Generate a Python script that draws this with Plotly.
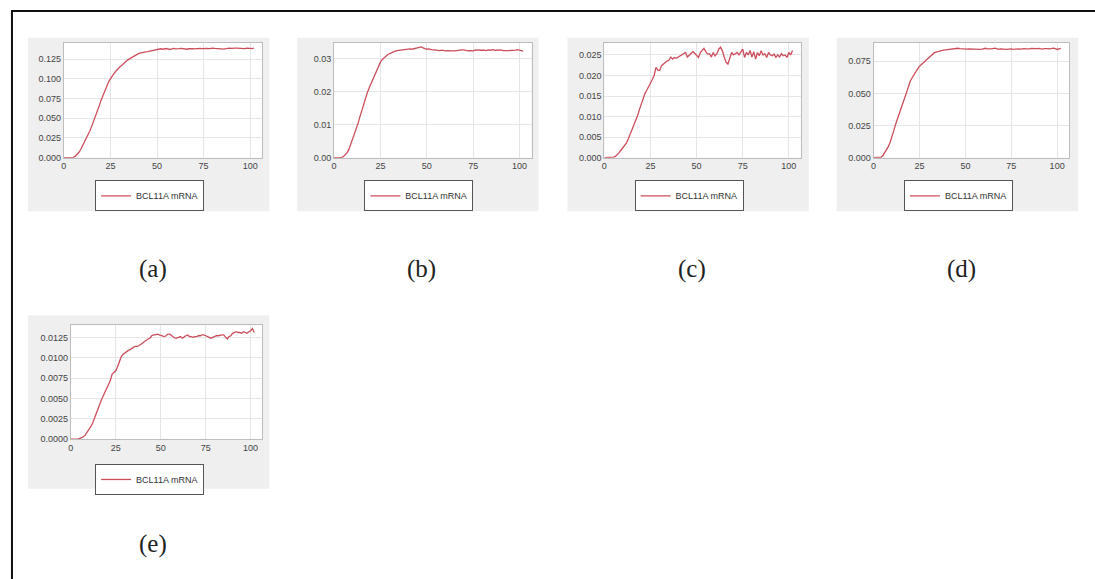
import plotly.graph_objects as go

W, H = 1095, 579

series_name = "BCL11A mRNA"
panel_labels = ["(a)", "(b)", "(c)", "(d)", "(e)"]

x_ticks = [0, 25, 50, 75, 100]

vals_a = [
    0, 0, 0, 0, 0, 0.0003, 0.0015, 0.0035, 0.0065, 0.010,
    0.0145, 0.019, 0.024, 0.029, 0.034, 0.040, 0.046, 0.052, 0.059, 0.066,
    0.073, 0.079, 0.085, 0.091, 0.096, 0.100, 0.104, 0.107, 0.110, 0.113,
    0.115, 0.117, 0.1195, 0.1215, 0.1235, 0.125, 0.1265, 0.128, 0.1295, 0.131,
    0.132, 0.1328, 0.1335, 0.1338, 0.1342, 0.1346, 0.135, 0.1358, 0.1365, 0.137,
    0.1375, 0.1378, 0.1382, 0.1376, 0.1380, 0.1385, 0.1379, 0.1374, 0.1381, 0.1386,
    0.1380, 0.1377, 0.1383, 0.1388, 0.1384, 0.1379, 0.1376, 0.1382, 0.1387, 0.1385,
    0.1381, 0.1384, 0.1389, 0.1386, 0.1383, 0.1386, 0.1390, 0.1388, 0.1385, 0.1389,
    0.1391, 0.1387, 0.1384, 0.1388, 0.1386, 0.1381, 0.1377, 0.1383, 0.1388, 0.1390,
    0.1386, 0.1384, 0.1389, 0.1391, 0.1388, 0.1385, 0.1381, 0.1384, 0.1389, 0.1392,
    0.1387, 0.1384, 0.1389,
]

vals_b = [
    0, 0, 0, 0, 0, 0.0003, 0.0008, 0.0015, 0.0025, 0.004,
    0.0055, 0.007, 0.0085, 0.0105, 0.0125, 0.0144, 0.0165, 0.0184, 0.0198, 0.0212,
    0.0225, 0.0239, 0.0253, 0.0267, 0.0279, 0.0289, 0.0297, 0.0303, 0.0308, 0.0312,
    0.0315, 0.0318, 0.0320, 0.0322, 0.0324, 0.0325, 0.0326, 0.0327, 0.0327, 0.0328,
    0.0328, 0.0329, 0.0328, 0.0329, 0.0330, 0.0331, 0.0332, 0.0335, 0.0332, 0.0330,
    0.0328, 0.0329, 0.0327, 0.0326, 0.0326, 0.0325, 0.0326, 0.0324, 0.0325, 0.0323,
    0.0323, 0.0324, 0.0323, 0.0322, 0.0323, 0.0323, 0.0324, 0.0325, 0.0327, 0.0326,
    0.0326, 0.0324, 0.0323, 0.0324, 0.0323, 0.0323, 0.0325, 0.0326, 0.0326, 0.0325,
    0.0326, 0.0325, 0.0324, 0.0326, 0.0325, 0.0325, 0.0327, 0.0324, 0.0326, 0.0325,
    0.0326, 0.0324, 0.0325, 0.0324, 0.0324, 0.0324, 0.0325, 0.0326, 0.0325, 0.0327,
    0.0326, 0.0325, 0.0322,
]

vals_c = [
    0, 0, 0, 0, 0, 0.0001, 0.0003, 0.0007, 0.0012, 0.0018,
    0.0024, 0.003, 0.0036, 0.0046, 0.0057, 0.0068, 0.0078, 0.0088, 0.0102, 0.0117,
    0.0132, 0.0144, 0.0156, 0.0164, 0.0172, 0.018, 0.019, 0.020, 0.022, 0.0213,
    0.0212, 0.0224, 0.0228, 0.0232, 0.0235, 0.0237, 0.0245, 0.024, 0.0244, 0.0242,
    0.0245, 0.0248, 0.025, 0.0253, 0.0256, 0.0245, 0.0249, 0.0253, 0.0258, 0.0254,
    0.025, 0.0244, 0.0256, 0.0262, 0.0266, 0.0258, 0.0252, 0.0253, 0.0245, 0.0256,
    0.0248, 0.0253, 0.0264, 0.0269, 0.026, 0.0245, 0.0232, 0.0228, 0.0244, 0.0256,
    0.025, 0.0253, 0.0256, 0.025, 0.0256, 0.0264, 0.0244, 0.0256, 0.025, 0.0261,
    0.0245, 0.0258, 0.024, 0.0256, 0.0248, 0.026, 0.025, 0.0253, 0.0244, 0.0256,
    0.025, 0.0248, 0.0252, 0.0244, 0.025, 0.0245, 0.0253, 0.0248, 0.025, 0.0244,
    0.0256, 0.025, 0.0261,
]

vals_d = [
    0, 0, 0, 0, 0.0003, 0.0015, 0.0035, 0.006, 0.0085, 0.012,
    0.016, 0.021, 0.026, 0.0305, 0.035, 0.039, 0.043, 0.0468, 0.051, 0.0555,
    0.0596, 0.0622, 0.0648, 0.067, 0.069, 0.0712, 0.0727, 0.074, 0.075, 0.0763,
    0.0776, 0.079, 0.0803, 0.0815, 0.0821, 0.0827, 0.083, 0.0833, 0.0836, 0.0838,
    0.084, 0.0843, 0.0846, 0.0849, 0.0851, 0.0853, 0.0851, 0.0848, 0.0846, 0.0845,
    0.0845, 0.0844, 0.0846, 0.0845, 0.0843, 0.0845, 0.0847, 0.0846, 0.0843, 0.0845,
    0.0848, 0.0851, 0.0847, 0.0844, 0.0846, 0.0849, 0.0852, 0.0848, 0.0843, 0.0846,
    0.0848, 0.0845, 0.0842, 0.0845, 0.0848, 0.0846, 0.0843, 0.0846, 0.0849, 0.0847,
    0.0844, 0.0847, 0.0849, 0.0846, 0.0844, 0.0847, 0.0850, 0.0848, 0.0845, 0.0848,
    0.0850, 0.0847, 0.0845, 0.0848, 0.0851, 0.0849, 0.0846, 0.0849, 0.0852, 0.0848,
    0.0842, 0.0847, 0.0850,
]

vals_e = [
    0, 0, 0, 0, 0, 0.0001, 0.0002, 0.0003, 0.0005, 0.0008,
    0.0011, 0.0015, 0.0019, 0.0025, 0.0031, 0.0038, 0.0043, 0.0048, 0.0053, 0.0058,
    0.0062, 0.0067, 0.0072, 0.008, 0.0082, 0.0084, 0.0089, 0.0095, 0.0101, 0.0104,
    0.0106, 0.0108, 0.0109, 0.011, 0.0112, 0.0113, 0.0114, 0.0114, 0.0115, 0.0116,
    0.0118, 0.012, 0.0122, 0.0123, 0.0124, 0.0127, 0.0128, 0.0128, 0.0129, 0.0128,
    0.0127, 0.0126, 0.0126, 0.0127, 0.0129, 0.0129, 0.0127, 0.0126, 0.0124, 0.0124,
    0.0125, 0.0126, 0.0124, 0.0126, 0.0127, 0.0128, 0.0126, 0.0126, 0.0125, 0.0126,
    0.0126, 0.0127, 0.0127, 0.0128, 0.0128, 0.0127, 0.0126, 0.0125, 0.0124, 0.0125,
    0.0126, 0.0127, 0.0127, 0.0128, 0.0128, 0.0128, 0.0125, 0.0123, 0.0126, 0.0127,
    0.013, 0.0131, 0.0132, 0.0131, 0.0131, 0.013, 0.0132, 0.0131, 0.013, 0.0132,
    0.0133, 0.0136, 0.0131,
]

y_ticks_a = [0, 0.025, 0.05, 0.075, 0.1, 0.125]
y_ticks_b = [0, 0.01, 0.02, 0.03]
y_ticks_c = [0, 0.005, 0.01, 0.015, 0.02, 0.025]
y_ticks_d = [0, 0.025, 0.05, 0.075]
y_ticks_e = [0, 0.0025, 0.005, 0.0075, 0.01, 0.0125]

series = [vals_a, vals_b, vals_c, vals_d, vals_e]
yticks = [y_ticks_a, y_ticks_b, y_ticks_c, y_ticks_d, y_ticks_e]
yfmt = [".3f", ".2f", ".3f", ".3f", ".4f"]
ymax = [0.146, 0.0348, 0.028, 0.0895, 0.0140]

# layout in pixels
gray_boxes = [(25, 38, 267, 213), (295, 38, 537, 213), (566, 38, 808, 213),
              (836, 38, 1078, 213), (25, 318, 267, 493)]
plot_boxes = [(61, 43, 260, 159), (332, 43, 530, 159), (603, 43, 800, 159),
              (873, 43, 1069, 159), (68, 328, 260, 443)]
legend_pos = [(147, 182), (417, 182), (688, 182), (958, 182), (147, 468)]
label_pos = [(150, 271), (420, 271), (691, 271), (961, 271), (150, 549)]


def px(x):
    return x / W


def py(y):
    return 1 - y / H


LINE = "#cc4e5c"
TICKFONT = dict(family="Liberation Sans", size=9, color="#444444")

fig = go.Figure()
layout = dict(
    width=W, height=H, margin=dict(l=0, r=0, t=0, b=0),
    paper_bgcolor="white", plot_bgcolor="white", showlegend=True,
    shapes=[], annotations=[],
)

for i in range(5):
    n = "" if i == 0 else str(i + 1)
    vals = series[i]
    fig.add_trace(go.Scatter(
        x=list(range(len(vals))), y=vals, mode="lines", name=series_name,
        line=dict(color=LINE, width=1.3),
        xaxis="x" + n, yaxis="y" + n, legend="legend" + n,
    ))
    x0, y0, x1, y1 = plot_boxes[i]
    layout["xaxis" + n] = dict(
        domain=[px(x0), px(x1)], anchor="y" + n, range=[0, 106.5],
        tickvals=x_ticks, showgrid=True, gridcolor="#e6e6e6", zeroline=False,
        showline=True, linecolor="#bdbdbd", mirror=True, tickfont=TICKFONT,
        ticks="", fixedrange=True,
    )
    layout["yaxis" + n] = dict(
        domain=[py(y1), py(y0)], anchor="x" + n, range=[0, ymax[i]],
        tickvals=yticks[i], tickformat=yfmt[i], showgrid=True,
        gridcolor="#e6e6e6", zeroline=False, showline=True,
        linecolor="#bdbdbd", mirror=True, tickfont=TICKFONT, ticks="",
    )
    lx, ly = legend_pos[i]
    layout["legend" + n] = dict(
        x=px(lx), y=py(ly), xanchor="center", yanchor="top",
        bgcolor="white", bordercolor="#555555", borderwidth=1,
        font=dict(family="Liberation Sans", size=9, color="#333333"),
        itemwidth=30,
    )
    gx0, gy0, gx1, gy1 = gray_boxes[i]
    layout["shapes"].append(dict(
        type="rect", xref="paper", yref="paper", x0=px(gx0), x1=px(gx1),
        y0=py(gy1), y1=py(gy0), fillcolor="#efefef", line=dict(width=0),
        layer="below",
    ))
    layout["shapes"].append(dict(
        type="rect", xref="paper", yref="paper", x0=px(x0), x1=px(x1),
        y0=py(y1), y1=py(y0), fillcolor="white", line=dict(width=0),
        layer="below",
    ))
    tx, ty = label_pos[i]
    layout["annotations"].append(dict(
        text=panel_labels[i], x=px(tx), y=py(ty), xref="paper", yref="paper",
        xanchor="center", yanchor="middle", showarrow=False,
        font=dict(family="Liberation Serif", size=25, color="#222222"),
    ))

# outer frame (extends past the right and bottom edges)
layout["shapes"].append(dict(
    type="rect", xref="paper", yref="paper", x0=px(9), x1=px(1200),
    y0=py(700), y1=py(11), line=dict(color="#111111", width=2),
    fillcolor="rgba(0,0,0,0)",
))

fig.update_layout(**layout)
fig.write_html("out.html")
